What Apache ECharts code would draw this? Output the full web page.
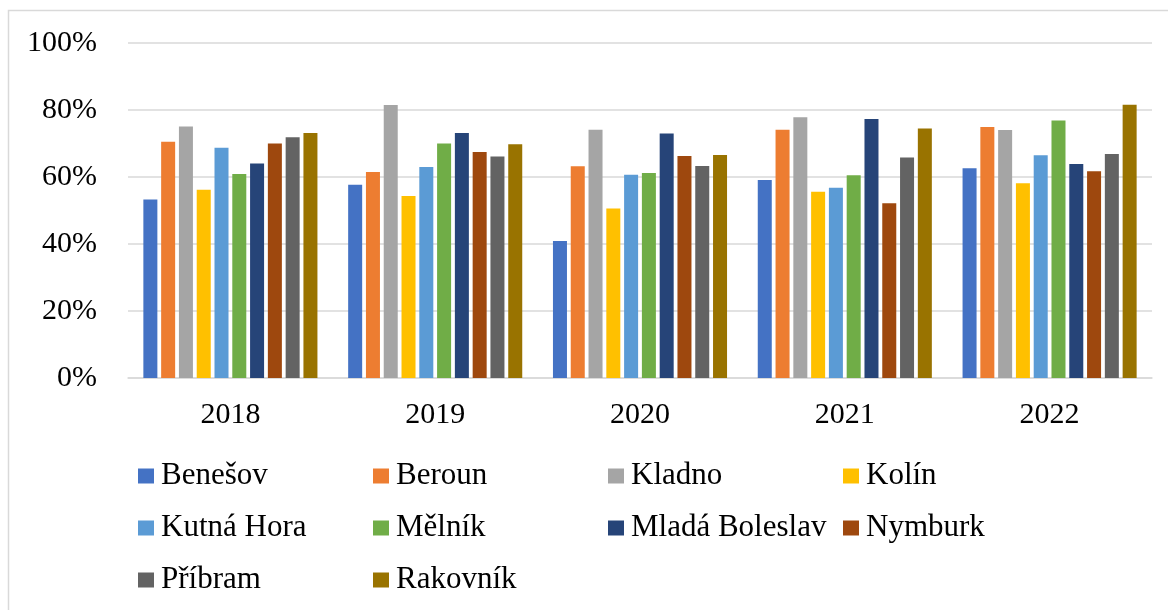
<!DOCTYPE html>
<html>
<head>
<meta charset="utf-8">
<script src="https://cdn.jsdelivr.net/npm/echarts@6/dist/echarts.min.js"></script>
<style>
  html, body { margin: 0; padding: 0; background: #fff; }
  #chart { width: 1168px; height: 610px; }
</style>
</head>
<body>
<div id="chart"></div>
<script>
var years = ['2018', '2019', '2020', '2021', '2022'];
var districts = ['Benešov', 'Beroun', 'Kladno', 'Kolín', 'Kutná Hora', 'Mělník', 'Mladá Boleslav', 'Nymburk', 'Příbram', 'Rakovník'];
var colors = ['#4472C4', '#ED7D31', '#A5A5A5', '#FFC000', '#5B9BD5', '#70AD47', '#264478', '#9E480E', '#636363', '#997300'];

// hodnoty v % po letech 2018-2022
var benesov = [53.3, 57.7, 40.9, 59.1, 62.6];
var beroun = [70.5, 61.5, 63.2, 74.1, 74.9];
var kladno = [75.1, 81.5, 74.1, 77.8, 74.0];
var kolin = [56.2, 54.3, 50.6, 55.6, 58.1];
var kutnaHora = [68.7, 63.0, 60.7, 56.8, 66.5];
var melnik = [60.9, 70.0, 61.2, 60.5, 76.9];
var mladaBoleslav = [64.0, 73.1, 73.0, 77.3, 63.9];
var nymburk = [70.0, 67.5, 66.3, 52.2, 61.7];
var pribram = [71.9, 66.1, 63.3, 65.8, 66.9];
var rakovnik = [73.1, 69.8, 66.6, 74.5, 81.6];

var values = [benesov, beroun, kladno, kolin, kutnaHora, melnik, mladaBoleslav, nymburk, pribram, rakovnik];
var yTicks = [0, 20, 40, 60, 80, 100];

var font = 'Liberation Serif';
var myChart = echarts.init(document.getElementById('chart'));

var series = districts.map(function(name, i) {
    return {
        name: name,
        type: 'bar',
        data: values[i],
        barGap: '27%',
        barCategoryGap: '15%',
        itemStyle: { color: colors[i] }
    };
});

var option = {
    animation: false,
    color: colors,
    textStyle: { fontFamily: font, fontSize: 30, color: '#000' },
    graphic: [{
        type: 'rect',
        shape: { x: 8.5, y: 10.5, width: 1200, height: 700 },
        style: { fill: 'none', stroke: '#D9D9D9', lineWidth: 1.5 },
        silent: true
    }],
    grid: { left: 128, right: 16, top: 43, bottom: 232 },
    legend: {
        data: districts,
        left: 138,
        top: 456,
        width: 960,
        padding: 0,
        itemWidth: 16,
        itemHeight: 15,
        itemGap: 12,
        icon: 'rect',
        formatter: '{n|{name}}',
        textStyle: {
            rich: {
                n: {
                    fontFamily: font,
                    fontSize: 31,
                    color: '#000',
                    width: 200,
                    height: 40,
                    lineHeight: 40,
                    padding: [0, 0, 0, 2]
                }
            }
        }
    },
    xAxis: {
        type: 'category',
        data: years,
        axisTick: { show: false },
        axisLine: { lineStyle: { color: '#D9D9D9', width: 1.5 } },
        axisLabel: { fontFamily: font, fontSize: 30, color: '#000', margin: 22 }
    },
    yAxis: {
        type: 'value',
        min: yTicks[0],
        max: yTicks[yTicks.length - 1],
        interval: 20,
        axisLine: { show: false },
        axisTick: { show: false },
        splitLine: { lineStyle: { color: '#D9D9D9', width: 1.5 } },
        axisLabel: { fontFamily: font, fontSize: 30, color: '#000', margin: 31, formatter: '{value}%' }
    },
    series: series
};

myChart.setOption(option);
</script>
</body>
</html>
